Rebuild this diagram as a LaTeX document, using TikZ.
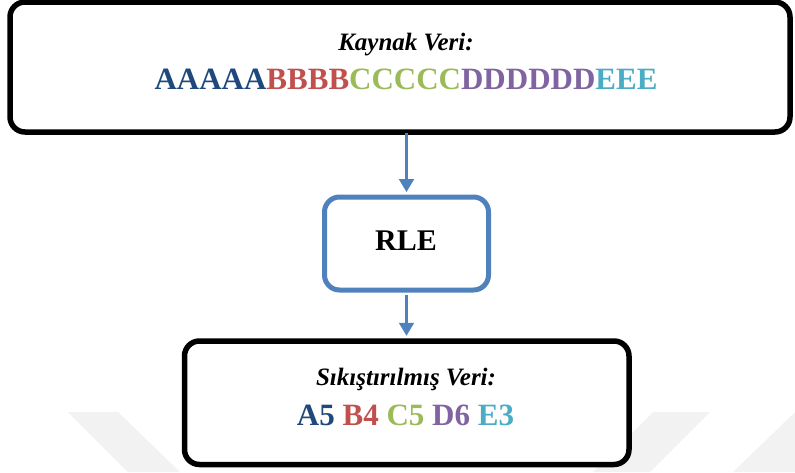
\documentclass[tikz,border=0pt]{standalone}
\usepackage{fontspec}
\setmainfont{Liberation Serif}
\usetikzlibrary{arrows.meta}

\definecolor{flowblue}{HTML}{4F81BD}
\definecolor{chA}{HTML}{1F497D}
\definecolor{chB}{HTML}{C0504D}
\definecolor{chC}{HTML}{9BBB59}
\definecolor{chD}{HTML}{8064A2}
\definecolor{chE}{HTML}{4BACC6}

\tikzset{
  databox/.style={draw=black, line width=5.5pt, rounded corners=15pt, fill=white, inner sep=0pt},
  procbox/.style={draw=flowblue, line width=5pt, rounded corners=15pt, fill=white, inner sep=0pt},
  flow/.style={draw=flowblue, line width=2.2pt, -{Triangle[width=15pt,length=13pt]}},
  caption/.style={anchor=base, inner sep=0pt, font=\fontsize{25}{30}\selectfont\bfseries\itshape},
  seq/.style={anchor=base, inner sep=0pt, font=\fontsize{31}{36}\selectfont\bfseries},
  stripe/.style={fill=black!5, draw=none}
}

\begin{document}
\begin{tikzpicture}[x=1pt, y=-1pt]
  \useasboundingbox (0,0) rectangle (795,472);

  % faint background stripes
  \fill[stripe] (68,412) -- (118,412) -- (180,472) -- (128,472) -- cycle;
  \fill[stripe] (653,412) -- (710,412) -- (650,472) -- (593,472) -- cycle;
  \fill[stripe] (795,412) -- (795,472) -- (733,472) -- (793,414) -- cycle;

  % boxes
  \node[databox, minimum width=780pt, minimum height=130pt] (src) at (400,67) {};
  \node[procbox, minimum width=164pt, minimum height=93pt] (rle) at (406.5,243.5) {};
  \node[databox, minimum width=444.5pt, minimum height=123.5pt] (out) at (406.75,402.75) {};

  % connectors
  \draw[flow, shorten <=-2pt, shorten >=2.5pt] (src.south -| rle.north) -- (rle.north);
  \draw[flow, shorten <=2.5pt, shorten >=2.5pt] (rle.south) -- (rle.south |- out.north);

  % texts
  \node[caption] (srccap) at (406,50) {Kaynak Veri:};
  \node[seq] (srcseq) at (406,89) {\textcolor{chA}{AAAAA}\textcolor{chB}{BBBB}\textcolor{chC}{CCCCC}\textcolor{chD}{DDDDDD}\textcolor{chE}{EEE}};
  \node[anchor=base, inner sep=0pt, font=\fontsize{30}{36}\selectfont\bfseries] (rlelabel) at (406,250) {RLE};
  \node[caption] (outcap) at (406,385) {Sıkıştırılmış Veri:};
  \node[seq] (outseq) at (405.5,425) {\textcolor{chA}{A5} \textcolor{chB}{B4} \textcolor{chC}{C5} \textcolor{chD}{D6} \textcolor{chE}{E3}};
\end{tikzpicture}
\end{document}
